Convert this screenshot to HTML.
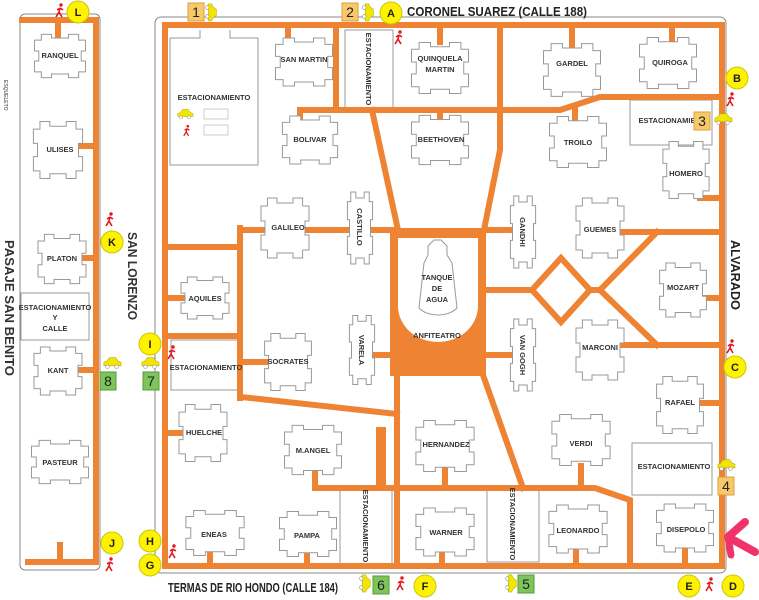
<!DOCTYPE html>
<html><head><meta charset="utf-8"><style>
html,body{margin:0;padding:0;background:#fff;width:759px;height:600px;overflow:hidden}
svg{display:block}
text{font-family:"Liberation Sans",sans-serif;font-weight:bold;fill:#333}
.b{font-size:7.5px;text-anchor:middle}
.o{stroke:#EE8433;fill:none;stroke-width:6;stroke-linecap:square}
.pk{fill:none;stroke:#999;stroke-width:1}
.cir{fill:#FFF200;stroke:#c8c800;stroke-width:1}
.cl{font-size:11px;text-anchor:middle;fill:#222}
</style></head><body>
<svg width="759" height="600" viewBox="0 0 759 600" xmlns="http://www.w3.org/2000/svg">
<defs>
<path id="bd" d="M-22,-30 h12 v5 h20 v-5 h12 v8 h8 v15 h-5 v14 h5 v15 h-8 v8 h-12 v-5 h-20 v5 h-12 v-8 h-8 v-15 h5 v-14 h-5 v-15 h8 z" fill="#fff" stroke="#999" stroke-width="1" vector-effect="non-scaling-stroke"/>
<g id="car"><path d="M-9,2 v-4 l3,-1 l3,-4 h7 l3,4 l3,1 v4 z" fill="#F2E600" stroke="#b8a800" stroke-width="0.6"/><circle cx="-5" cy="3" r="2" fill="#fff" stroke="#888" stroke-width="0.6"/><circle cx="5" cy="3" r="2" fill="#fff" stroke="#888" stroke-width="0.6"/></g>
<g id="ped" stroke="#e3161b" stroke-width="1.6" fill="none"><circle cx="1" cy="-6" r="1.7" fill="#e3161b" stroke="none"/><path d="M0,-3 l-1,4 l-3,5 M-1,1 l3,5 M0,-3 l-3,2 M0,-3 l3,2"/></g>
</defs>

<!-- left strip -->
<rect x="20" y="14" width="80" height="556" rx="5" fill="none" stroke="#888" stroke-width="1"/>
<g class="o">
<path d="M22,20 H96 V562 H28"/>
<path d="M58,20 V35"/><path d="M60,562 V545"/>
<path d="M82,146 H96"/><path d="M82,258 H96"/><path d="M80,370 H96"/>
</g>
<use href="#bd" transform="translate(60,56) scale(0.85,0.72)"/>
<use href="#bd" transform="translate(58,150) scale(0.82,0.95)"/>
<use href="#bd" transform="translate(62,259) scale(0.8,0.82)"/>
<use href="#bd" transform="translate(58,371) scale(0.8,0.8)"/>
<use href="#bd" transform="translate(60,462) scale(0.95,0.72)"/>
<text class="b" x="60" y="58">RANQUEL</text>
<text class="b" x="60" y="152">ULISES</text>
<text class="b" x="62" y="261">PLATON</text>
<text class="b" x="58" y="373">KANT</text>
<text class="b" x="60" y="465">PASTEUR</text>
<rect x="21" y="293" width="68" height="47" fill="#fff" stroke="#999"/>
<text class="b" x="55" y="310">ESTACIONAMIENTO</text>
<text class="b" x="55" y="320">Y</text>
<text class="b" x="55" y="331">CALLE</text>
<text x="0" y="0" transform="translate(4,80) rotate(90)" style="font-size:5px;font-weight:normal">ESQUELETO</text>
<text x="0" y="0" transform="translate(5,240) rotate(90)" style="font-size:13px" textLength="136" lengthAdjust="spacingAndGlyphs">PASAJE SAN BENITO</text>
<text x="0" y="0" transform="translate(128,232) rotate(90)" style="font-size:13px" textLength="88" lengthAdjust="spacingAndGlyphs">SAN LORENZO</text>

<!-- main block frame -->
<rect x="155" y="17" width="571" height="556" rx="6" fill="none" stroke="#888" stroke-width="1"/>

<!-- parking boxes -->
<path class="pk" d="M200,30 V38 H170 V165 H258 V38 H230 V30"/>
<rect class="pk" x="345" y="30" width="48" height="78"/>
<rect class="pk" x="630" y="100" width="82" height="45"/>
<rect class="pk" x="171" y="340" width="70" height="50"/>
<rect class="pk" x="632" y="443" width="80" height="52"/>
<rect class="pk" x="340" y="487" width="52" height="78"/>
<rect class="pk" x="487" y="487" width="52" height="75"/>

<g class="o">
<path d="M165,25 H722 V566 H165 Z"/>
<path d="M336,25 V110"/>
<path d="M288,25 V38"/><path d="M440,25 V42"/><path d="M572,25 V48"/><path d="M672,25 V45"/>
<path d="M300,118 V110 H560 L600,97 H722"/>
<path d="M440,110 V120"/><path d="M575,110 V120"/>
<path d="M500,25 V150 L484,230"/>
<path d="M372,110 L398,230"/>
<path d="M240,230 H395"/><path d="M485,230 H515"/><path d="M615,232 H722"/>
<path d="M165,247 H240"/><path d="M240,228 V398"/>
<path d="M165,298 H183"/><path d="M165,336 H240"/><path d="M240,362 H270"/>
<path d="M165,433 H183"/>
<path d="M241,397 L397,414"/>
<path d="M370,355 H392"/><path d="M485,355 H512"/>
<path d="M485,290 H532 L561,258 L590,290 L561,322 L532,290"/>
<path d="M590,290 H600 L657,232"/><path d="M600,290 L657,345"/>
<path d="M615,345 H722"/>
<path d="M700,198 H722"/><path d="M700,298 H722"/><path d="M700,403 H722"/>
<path d="M397,375 V566"/>
<path d="M483,375 L523,488"/>
<path d="M315,470 V488 H595 L630,500 V566"/>
<path d="M445,470 V488"/><path d="M581,466 V488"/>
<path d="M210,545 V566"/><path d="M307,548 V566"/><path d="M442,550 V566"/><path d="M576,548 V566"/><path d="M685,548 V566"/>
</g>
<rect x="376" y="427" width="10" height="62" fill="#EE8433"/>

<!-- plaza -->
<rect x="390" y="228" width="96" height="148" fill="#EE8433"/>
<rect x="398" y="238" width="80" height="70" fill="#fff"/>
<path d="M398,306 H478 A40,36 0 0 1 398,306 Z" fill="#fff"/>
<path d="M428,246 l6,-6 h7 l6,6 v9 l5,8 l5,45 A22,14 0 0 1 419,308 l5,-45 l4,-8 z" fill="#fff" stroke="#999"/>
<text class="b" x="437" y="280">TANQUE</text>
<text class="b" x="437" y="291">DE</text>
<text class="b" x="437" y="302">AGUA</text>
<text class="b" x="437" y="338">ANFITEATRO</text>

<!-- buildings -->
<use href="#bd" transform="translate(304,62) scale(0.95,0.8)"/>
<use href="#bd" transform="translate(440,68) scale(0.95,0.85)"/>
<use href="#bd" transform="translate(572,70) scale(0.95,0.88)"/>
<use href="#bd" transform="translate(668,63) scale(0.95,0.85)"/>
<use href="#bd" transform="translate(310,140) scale(0.92,0.8)"/>
<use href="#bd" transform="translate(440,140) scale(0.95,0.82)"/>
<use href="#bd" transform="translate(578,142) scale(0.95,0.85)"/>
<use href="#bd" transform="translate(686,170) scale(0.77,0.95)"/>
<use href="#bd" transform="translate(285,228) scale(0.8,1.0)"/>
<use href="#bd" transform="translate(360,228) scale(0.42,1.2)"/>
<use href="#bd" transform="translate(523,232) scale(0.42,1.2)"/>
<use href="#bd" transform="translate(600,228) scale(0.8,1.0)"/>
<use href="#bd" transform="translate(683,290) scale(0.78,0.9)"/>
<use href="#bd" transform="translate(205,298) scale(0.8,0.7)"/>
<use href="#bd" transform="translate(288,362) scale(0.78,0.95)"/>
<use href="#bd" transform="translate(362,350) scale(0.42,1.15)"/>
<use href="#bd" transform="translate(523,355) scale(0.42,1.2)"/>
<use href="#bd" transform="translate(600,350) scale(0.8,1.0)"/>
<use href="#bd" transform="translate(680,405) scale(0.78,0.95)"/>
<use href="#bd" transform="translate(203,433) scale(0.8,0.95)"/>
<use href="#bd" transform="translate(313,450) scale(0.95,0.82)"/>
<use href="#bd" transform="translate(445,446) scale(0.97,0.85)"/>
<use href="#bd" transform="translate(581,440) scale(0.97,0.85)"/>
<use href="#bd" transform="translate(215,533) scale(0.97,0.75)"/>
<use href="#bd" transform="translate(308,534) scale(0.95,0.75)"/>
<use href="#bd" transform="translate(445,532) scale(0.97,0.8)"/>
<use href="#bd" transform="translate(578,529) scale(0.97,0.8)"/>
<use href="#bd" transform="translate(685,528) scale(0.95,0.8)"/>

<text class="b" x="304" y="62">SAN MARTIN</text>
<text class="b" x="440" y="61">QUINQUELA</text>
<text class="b" x="440" y="72">MARTIN</text>
<text class="b" x="572" y="66">GARDEL</text>
<text class="b" x="670" y="65">QUIROGA</text>
<text class="b" x="310" y="142">BOLIVAR</text>
<text class="b" x="441" y="142">BEETHOVEN</text>
<text class="b" x="578" y="145">TROILO</text>
<text class="b" x="686" y="176">HOMERO</text>
<text class="b" x="288" y="230">GALILEO</text>
<text class="b" x="600" y="232">GUEMES</text>
<text class="b" x="683" y="290">MOZART</text>
<text class="b" x="205" y="301">AQUILES</text>
<text class="b" x="288" y="364">SOCRATES</text>
<text class="b" x="600" y="350">MARCONI</text>
<text class="b" x="680" y="405">RAFAEL</text>
<text class="b" x="204" y="435">HUELCHE</text>
<text class="b" x="313" y="453">M.ANGEL</text>
<text class="b" x="446" y="447">HERNANDEZ</text>
<text class="b" x="581" y="446">VERDI</text>
<text class="b" x="214" y="537">ENEAS</text>
<text class="b" x="307" y="538">PAMPA</text>
<text class="b" x="446" y="535">WARNER</text>
<text class="b" x="578" y="533">LEONARDO</text>
<text class="b" x="686" y="532">DISEPOLO</text>
<text class="b" transform="translate(357,227) rotate(90)">CASTILLO</text>
<text class="b" transform="translate(520,232) rotate(90)">GANDHI</text>
<text class="b" transform="translate(359,350) rotate(90)">VARELA</text>
<text class="b" transform="translate(520,355) rotate(90)">VAN GOGH</text>

<text class="b" x="214" y="100">ESTACIONAMIENTO</text>
<use href="#car" transform="translate(185,115) scale(0.8)"/>
<rect x="204" y="109" width="24" height="10" fill="#fff" stroke="#aaa" stroke-width="0.6"/>
<use href="#ped" transform="translate(187,131) scale(0.8)"/>
<rect x="204" y="125" width="24" height="10" fill="#fff" stroke="#aaa" stroke-width="0.6"/>
<text class="b" transform="translate(366,69) rotate(90)">ESTACIONAMIENTO</text>
<text class="b" x="667" y="123">ESTACIONAMIE</text>
<text class="b" x="206" y="370">ESTACIONAMIENTO</text>
<text class="b" x="674" y="469">ESTACIONAMIENTO</text>
<text class="b" transform="translate(363,526) rotate(90)">ESTACIONAMIENTO</text>
<text class="b" transform="translate(510,524) rotate(90)">ESTACIONAMIENTO</text>

<!-- street names -->
<text x="407" y="16" style="font-size:13px;fill:#222" textLength="180" lengthAdjust="spacingAndGlyphs">CORONEL SUAREZ (CALLE 188)</text>
<text x="168" y="592" style="font-size:13px;fill:#222" textLength="170" lengthAdjust="spacingAndGlyphs">TERMAS DE RIO HONDO (CALLE 184)</text>
<text transform="translate(731,240) rotate(90)" style="font-size:13px;fill:#222" textLength="70" lengthAdjust="spacingAndGlyphs">ALVARADO</text>

<!-- numbered markers -->
<g style="font-size:13px">
<rect x="188" y="3" width="16" height="18" fill="#F7C96A" stroke="#d8a040"/><text x="196" y="17" class="cl" style="font-weight:normal;font-size:14px">1</text>
<rect x="342" y="3" width="16" height="18" fill="#F7C96A" stroke="#d8a040"/><text x="350" y="17" class="cl" style="font-weight:normal;font-size:14px">2</text>
<rect x="694" y="112" width="16" height="18" fill="#F7C96A" stroke="#d8a040"/><text x="702" y="126" class="cl" style="font-weight:normal;font-size:14px">3</text>
<rect x="718" y="477" width="16" height="18" fill="#F7C96A" stroke="#d8a040"/><text x="726" y="491" class="cl" style="font-weight:normal;font-size:14px">4</text>
<rect x="518" y="575" width="16" height="18" fill="#7DC45A" stroke="#5a9a3a"/><text x="526" y="589" class="cl" style="font-weight:normal;font-size:14px">5</text>
<rect x="373" y="576" width="16" height="18" fill="#7DC45A" stroke="#5a9a3a"/><text x="381" y="590" class="cl" style="font-weight:normal;font-size:14px">6</text>
<rect x="143" y="372" width="16" height="18" fill="#7DC45A" stroke="#5a9a3a"/><text x="151" y="386" class="cl" style="font-weight:normal;font-size:14px">7</text>
<rect x="100" y="372" width="16" height="18" fill="#7DC45A" stroke="#5a9a3a"/><text x="108" y="386" class="cl" style="font-weight:normal;font-size:14px">8</text>
</g>
<use href="#car" transform="translate(210,12) rotate(90) scale(0.9)"/>
<use href="#car" transform="translate(367,12) rotate(90) scale(0.9)"/>
<use href="#car" transform="translate(723,120) scale(0.9)"/>
<use href="#car" transform="translate(726,466) scale(0.9)"/>
<use href="#car" transform="translate(510,583) rotate(90) scale(0.9)"/>
<use href="#car" transform="translate(364,583) rotate(90) scale(0.9)"/>
<use href="#car" transform="translate(150,364) scale(0.9)"/>
<use href="#car" transform="translate(112,364) scale(0.9)"/>

<!-- letter circles -->
<g>
<circle class="cir" cx="78" cy="12" r="11"/><text class="cl" x="78" y="16">L</text>
<circle class="cir" cx="112" cy="242" r="11"/><text class="cl" x="112" y="246">K</text>
<circle class="cir" cx="112" cy="543" r="11"/><text class="cl" x="112" y="547">J</text>
<circle class="cir" cx="150" cy="344" r="11"/><text class="cl" x="150" y="348">I</text>
<circle class="cir" cx="150" cy="541" r="11"/><text class="cl" x="150" y="545">H</text>
<circle class="cir" cx="150" cy="565" r="11"/><text class="cl" x="150" y="569">G</text>
<circle class="cir" cx="391" cy="13" r="11"/><text class="cl" x="391" y="17">A</text>
<circle class="cir" cx="737" cy="78" r="11"/><text class="cl" x="737" y="82">B</text>
<circle class="cir" cx="735" cy="367" r="11"/><text class="cl" x="735" y="371">C</text>
<circle class="cir" cx="733" cy="586" r="11"/><text class="cl" x="733" y="590">D</text>
<circle class="cir" cx="689" cy="586" r="11"/><text class="cl" x="689" y="590">E</text>
<circle class="cir" cx="425" cy="586" r="11"/><text class="cl" x="425" y="590">F</text>
</g>
<use href="#ped" transform="translate(60,11)"/>
<use href="#ped" transform="translate(110,220)"/>
<use href="#ped" transform="translate(110,565)"/>
<use href="#ped" transform="translate(172,353)"/>
<use href="#ped" transform="translate(173,552)"/>
<use href="#ped" transform="translate(399,38)"/>
<use href="#ped" transform="translate(731,100)"/>
<use href="#ped" transform="translate(731,347)"/>
<use href="#ped" transform="translate(710,585)"/>
<use href="#ped" transform="translate(401,584)"/>

<!-- pink arrow -->
<path d="M745,522 L728,537 L755,552" fill="none" stroke="#F0336A" stroke-width="8" stroke-linecap="round" stroke-linejoin="round"/>
<path d="M728,537 L731,555" fill="none" stroke="#F0336A" stroke-width="7" stroke-linecap="round"/>
</svg>
</body></html>
